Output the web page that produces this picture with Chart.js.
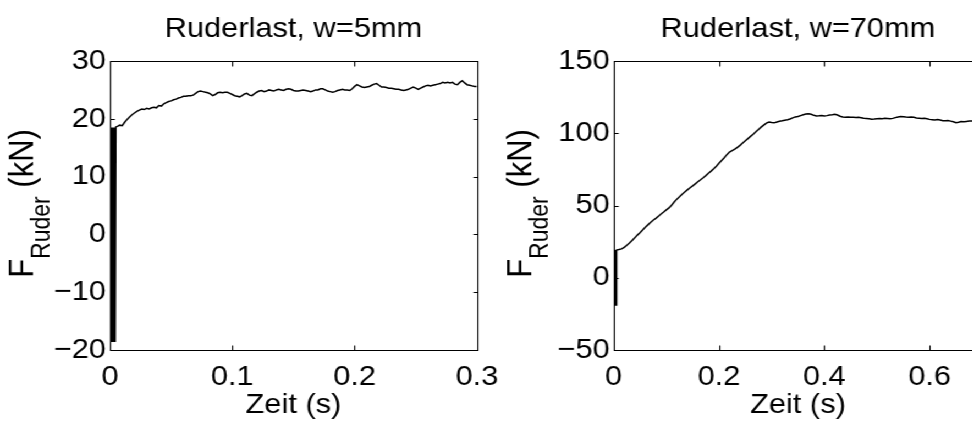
<!DOCTYPE html>
<html>
<head>
<meta charset="utf-8">
<script src="https://cdn.jsdelivr.net/npm/chart.js@4.4.1/dist/chart.umd.min.js"></script>
<style>
  html, body { margin: 0; padding: 0; background: #fff; width: 972px; height: 424px; overflow: hidden; }
  /* figure is laid out at 884px and widened to 972px */
  #stage { position: relative; width: 884px; height: 424px; overflow: hidden; transform: scaleX(1.1); transform-origin: 0 0; }
  canvas { position: absolute; top: 0; }
</style>
</head>
<body>
<div id="stage">
  <canvas id="left" width="480" height="424" style="left:0px"></canvas>
  <canvas id="right" width="500" height="424" style="left:440px"></canvas>
</div>
<script>
// ---- rudder load, w = 5 mm ----
const timeLeft = [
  0, 0.0004, 0.0008, 0.0012, 0.0016, 0.002, 0.0024, 0.0028, 0.0032, 0.0036, 0.004, 0.0044, 0.0048,
  0.006, 0.008, 0.010, 0.012, 0.014, 0.016, 0.018, 0.020, 0.022, 0.024, 0.026, 0.028, 0.030,
  0.032, 0.034, 0.036, 0.038, 0.040, 0.042, 0.044, 0.046, 0.048, 0.050, 0.052, 0.054, 0.056,
  0.058, 0.060, 0.062, 0.064, 0.066, 0.068, 0.070, 0.072, 0.074, 0.076, 0.078, 0.080, 0.082,
  0.084, 0.086, 0.088, 0.090, 0.092, 0.094, 0.096, 0.098, 0.100, 0.102, 0.104, 0.106, 0.108,
  0.110, 0.112, 0.114, 0.116, 0.118, 0.120, 0.122, 0.124, 0.126, 0.128, 0.130, 0.132, 0.134,
  0.136, 0.138, 0.140, 0.142, 0.144, 0.146, 0.148, 0.150, 0.152, 0.154, 0.156, 0.158, 0.160,
  0.162, 0.164, 0.166, 0.168, 0.170, 0.172, 0.174, 0.176, 0.178, 0.180, 0.182, 0.184, 0.186,
  0.188, 0.190, 0.192, 0.194, 0.196, 0.198, 0.200, 0.202, 0.204, 0.206, 0.208, 0.210, 0.212,
  0.214, 0.216, 0.218, 0.220, 0.222, 0.224, 0.226, 0.228, 0.230, 0.232, 0.234, 0.236, 0.238,
  0.240, 0.242, 0.244, 0.246, 0.248, 0.250, 0.252, 0.254, 0.256, 0.258, 0.260, 0.262, 0.264,
  0.266, 0.268, 0.270, 0.272, 0.274, 0.276, 0.278, 0.280, 0.282, 0.284, 0.286, 0.288, 0.290,
  0.292, 0.294, 0.296, 0.298, 0.300
];
const forceLeft = [
  18.5, -18.5, 18.5, -18.5, 18.5, -18.5, 18.5, -18.5, 18.5, -18.5, 18.5, -18.5, 18.6,
  18.7, 18.9, 18.8, 19.4, 19.9, 20.3, 20.7, 21.0, 21.3, 21.5, 21.7, 21.6, 21.8,
  21.7, 21.9, 22.0, 21.9, 22.3, 22.2, 22.6, 22.8, 23.0, 23.1, 23.3, 23.4, 23.6,
  23.7, 23.9, 23.9, 24.0, 24.0, 24.1, 24.4, 24.7, 24.8, 24.7, 24.6, 24.5, 24.3,
  24.0, 24.2, 24.5, 24.6, 24.5, 24.6, 24.6, 24.4, 24.2, 24.0, 23.9, 23.8, 24.0,
  24.3, 24.4, 24.1, 24.0, 24.3, 24.6, 24.8, 24.9, 24.7, 24.8, 25.0, 24.9, 24.8,
  25.0, 25.1, 25.0, 24.9, 25.1, 25.2, 25.1, 24.9, 24.8, 24.8, 24.9, 25.0, 24.9,
  24.8, 24.7, 24.8, 25.0, 25.0, 25.2, 25.2, 25.0, 24.8, 24.7, 24.6, 24.7, 24.9,
  25.0, 25.1, 25.0, 25.0, 24.9, 25.2, 25.6, 25.9, 25.7, 25.5, 25.4, 25.5, 25.6,
  25.8, 26.0, 26.1, 25.8, 25.5, 25.5, 25.4, 25.3, 25.3, 25.2, 25.1, 25.1, 25.0,
  24.9, 25.0, 25.1, 25.3, 25.5, 25.3, 25.1, 25.3, 25.5, 25.7, 25.8, 25.7, 25.8,
  25.9, 26.0, 26.1, 26.3, 26.2, 26.3, 26.2, 26.3, 26.0, 25.9, 26.3, 26.6, 26.2,
  25.9, 25.8, 25.7, 25.6, 25.6
];
const xTicksLeft = [0, 0.1, 0.2, 0.3];
const yTicksLeft = [-20, -10, 0, 10, 20, 30];

// ---- rudder load, w = 70 mm ----
const timeRight = [
  0, 0.0005, 0.001, 0.0015, 0.002, 0.0025, 0.003, 0.0035, 0.004, 0.0045, 0.005, 0.0055, 0.006,
  0.010, 0.015, 0.020, 0.025, 0.030, 0.035, 0.040, 0.045, 0.050, 0.055, 0.060, 0.065, 0.070,
  0.075, 0.080, 0.085, 0.090, 0.095, 0.100, 0.105, 0.110, 0.115, 0.120, 0.125, 0.130, 0.135,
  0.140, 0.145, 0.150, 0.155, 0.160, 0.165, 0.170, 0.175, 0.180, 0.185, 0.190, 0.195, 0.200,
  0.205, 0.210, 0.215, 0.220, 0.225, 0.230, 0.235, 0.240, 0.245, 0.250, 0.255, 0.260, 0.265,
  0.270, 0.275, 0.280, 0.285, 0.290, 0.295, 0.300, 0.305, 0.310, 0.315, 0.320, 0.325, 0.330,
  0.335, 0.340, 0.345, 0.350, 0.355, 0.360, 0.365, 0.370, 0.375, 0.380, 0.385, 0.390, 0.395,
  0.400, 0.405, 0.410, 0.415, 0.420, 0.425, 0.430, 0.435, 0.440, 0.445, 0.450, 0.455, 0.460,
  0.465, 0.470, 0.475, 0.480, 0.485, 0.490, 0.495, 0.500, 0.505, 0.510, 0.515, 0.520, 0.525,
  0.530, 0.535, 0.540, 0.545, 0.550, 0.555, 0.560, 0.565, 0.570, 0.575, 0.580, 0.585, 0.590,
  0.595, 0.600, 0.605, 0.610, 0.615, 0.620, 0.625, 0.630, 0.635, 0.640, 0.645, 0.650, 0.655,
  0.660, 0.665, 0.670, 0.675, 0.680, 0.690, 0.700
];
const forceRight = [
  19.2, -18.9, 19.2, -18.9, 19.2, -18.9, 19.2, -18.9, 19.2, -18.9, 19.2, -18.9, 19.2,
  19.5, 20.0, 21.0, 22.5, 24.0, 25.8, 27.6, 29.5, 31.2, 33.0, 35.0, 36.6, 38.2,
  39.8, 41.1, 42.6, 44.1, 45.5, 47.0, 48.3, 50.2, 52.4, 54.4, 56.0, 57.8, 59.3,
  60.8, 62.3, 63.6, 65.0, 66.4, 67.8, 69.2, 70.7, 72.3, 73.8, 75.4, 77.2, 79.2,
  81.1, 83.0, 85.2, 87.0, 88.0, 89.0, 90.2, 91.6, 93.2, 94.8, 96.3, 97.8, 99.3,
  101.0, 102.6, 104.2, 105.6, 107.0, 107.8, 107.4, 107.2, 107.8, 108.3, 108.6, 109.0, 109.3,
  109.9, 110.6, 111.3, 111.6, 112.2, 112.8, 113.3, 113.5, 113.1, 112.4, 112.0, 112.1, 112.3,
  112.0, 112.2, 112.6, 112.8, 113.1, 112.6, 111.8, 111.3, 111.0, 111.2, 111.1, 111.0, 110.9,
  111.0, 110.7, 110.4, 110.2, 110.0, 109.7, 109.8, 110.0, 110.2, 110.1, 110.3, 110.2, 110.0,
  110.3, 110.8, 111.3, 111.6, 111.4, 111.2, 111.1, 111.3, 111.0, 110.6, 110.4, 110.2, 110.3,
  110.0, 109.6, 109.4, 109.2, 109.5, 109.1, 108.7, 108.6, 108.8, 108.4, 108.0, 107.3, 107.6,
  108.1, 108.0, 108.2, 108.4, 108.5, 108.4, 108.3
];
const xTicksRight = [0, 0.2, 0.4, 0.6];
const yTicksRight = [-50, 0, 50, 100, 150];

const FONT = '"Liberation Sans", Arial, Helvetica, sans-serif';
const FONT_SIZE = 28;
const LABEL_SIZE = 31;
const SUB_SIZE = 23;

// boxed axes with inward tick marks on all four sides
const boxAxes = {
  id: 'boxAxes',
  afterDatasetsDraw(chart) {
    const { ctx, chartArea: a, scales: { x, y } } = chart;
    const L = Math.round(a.left) + 0.5, R = Math.round(a.right) + 0.5;
    const T = Math.round(a.top) + 0.5, B = Math.round(a.bottom) + 0.5;
    ctx.save();
    ctx.strokeStyle = '#000';
    ctx.lineWidth = 1.1;
    ctx.beginPath();
    ctx.rect(L, T, R - L, B - T);
    x.ticks.forEach(t => {
      const px = Math.round(x.getPixelForValue(t.value)) + 0.5;
      ctx.moveTo(px, B); ctx.lineTo(px, B - 5);
      ctx.moveTo(px, T); ctx.lineTo(px, T + 5);
    });
    y.ticks.forEach(t => {
      const py = Math.round(y.getPixelForValue(t.value)) + 0.5;
      ctx.moveTo(L, py); ctx.lineTo(L + 4, py);
      ctx.moveTo(R, py); ctx.lineTo(R - 4, py);
    });
    ctx.stroke();
    ctx.restore();
  }
};

// panel title and the y label with its subscript
const panelTexts = {
  id: 'panelTexts',
  afterDraw(chart, args, opts) {
    const { ctx, chartArea: a } = chart;
    ctx.save();
    ctx.fillStyle = '#000';
    ctx.font = `${FONT_SIZE}px ${FONT}`;
    ctx.textAlign = 'center';
    ctx.textBaseline = 'alphabetic';
    ctx.fillText(opts.title, (a.left + a.right) / 2, 37);

    const mainFont = `${LABEL_SIZE}px ${FONT}`;
    const subFont = `${SUB_SIZE}px ${FONT}`;
    ctx.font = mainFont;
    const wF = ctx.measureText('F').width;
    const wRest = ctx.measureText(' (kN)').width;
    ctx.font = subFont;
    const wSub = ctx.measureText('Ruder').width;
    const total = wF + wSub + wRest;
    ctx.translate(opts.labelX, (a.top + a.bottom) / 2 - 2);
    ctx.rotate(-Math.PI / 2);
    ctx.textAlign = 'left';
    const x0 = -total / 2;
    ctx.font = mainFont;
    ctx.fillText('F', x0, 0);
    ctx.font = subFont;
    ctx.fillText('Ruder', x0 + wF, 15);
    ctx.font = mainFont;
    ctx.fillText(' (kN)', x0 + wF + wSub, 0);
    ctx.restore();
  }
};

function fmt(v) {
  const s = String(Math.round(v * 1000) / 1000);
  return s.replace('-', '\u2212');
}

function makePanel(id, cfg) {
  const pts = cfg.t.map((t, i) => ({ x: t, y: cfg.f[i] }));
  return new Chart(document.getElementById(id), {
    type: 'scatter',
    data: {
      datasets: [{
        data: pts,
        showLine: true,
        borderColor: '#000',
        borderWidth: 1.5,
        pointRadius: 0,
        tension: 0
      }]
    },
    options: {
      responsive: false,
      animation: false,
      devicePixelRatio: 1,
      events: [],
      layout: { padding: { left: 0, right: cfg.padRight, top: 61, bottom: 0 } },
      plugins: {
        legend: { display: false },
        tooltip: { enabled: false },
        title: { display: false },
        panelTexts: { title: cfg.title, labelX: cfg.labelX }
      },
      scales: {
        x: {
          type: 'linear',
          min: cfg.xMin, max: cfg.xMax,
          grid: { display: false, drawTicks: false },
          border: { display: false },
          afterBuildTicks: s => { s.ticks = cfg.xTicks.map(v => ({ value: v })); },
          afterFit: s => { s.height = 74; },
          ticks: {
            color: '#000', font: { family: FONT, size: FONT_SIZE },
            padding: 10, maxRotation: 0, autoSkip: false,
            callback: v => fmt(v)
          },
          title: {
            display: true, text: 'Zeit (s)', color: '#000',
            font: { family: FONT, size: FONT_SIZE },
            padding: { top: 0, bottom: 2 }
          }
        },
        y: {
          type: 'linear',
          min: cfg.yMin, max: cfg.yMax,
          grid: { display: false, drawTicks: false },
          border: { display: false },
          afterBuildTicks: s => { s.ticks = cfg.yTicks.map(v => ({ value: v })); },
          afterFit: s => { s.width = cfg.axisLeft; },
          ticks: {
            color: '#000', font: { family: FONT, size: FONT_SIZE },
            padding: 3.6, autoSkip: false,
            callback: v => fmt(v)
          }
        }
      }
    },
    plugins: [boxAxes, panelTexts]
  });
}

makePanel('left', {
  t: timeLeft, f: forceLeft,
  xMin: 0, xMax: 0.3, yMin: -20, yMax: 30,
  xTicks: xTicksLeft, yTicks: yTicksLeft,
  title: 'Ruderlast, w=5mm',
  axisLeft: 100, padRight: 46.4, labelX: 30
});

makePanel('right', {
  t: timeRight, f: forceRight,
  xMin: 0, xMax: 0.7, yMin: -50, yMax: 150,
  xTicks: xTicksRight, yTicks: yTicksRight,
  title: 'Ruderlast, w=70mm',
  axisLeft: 117.9, padRight: 47, labelX: 42.7
});
</script>
</body>
</html>
